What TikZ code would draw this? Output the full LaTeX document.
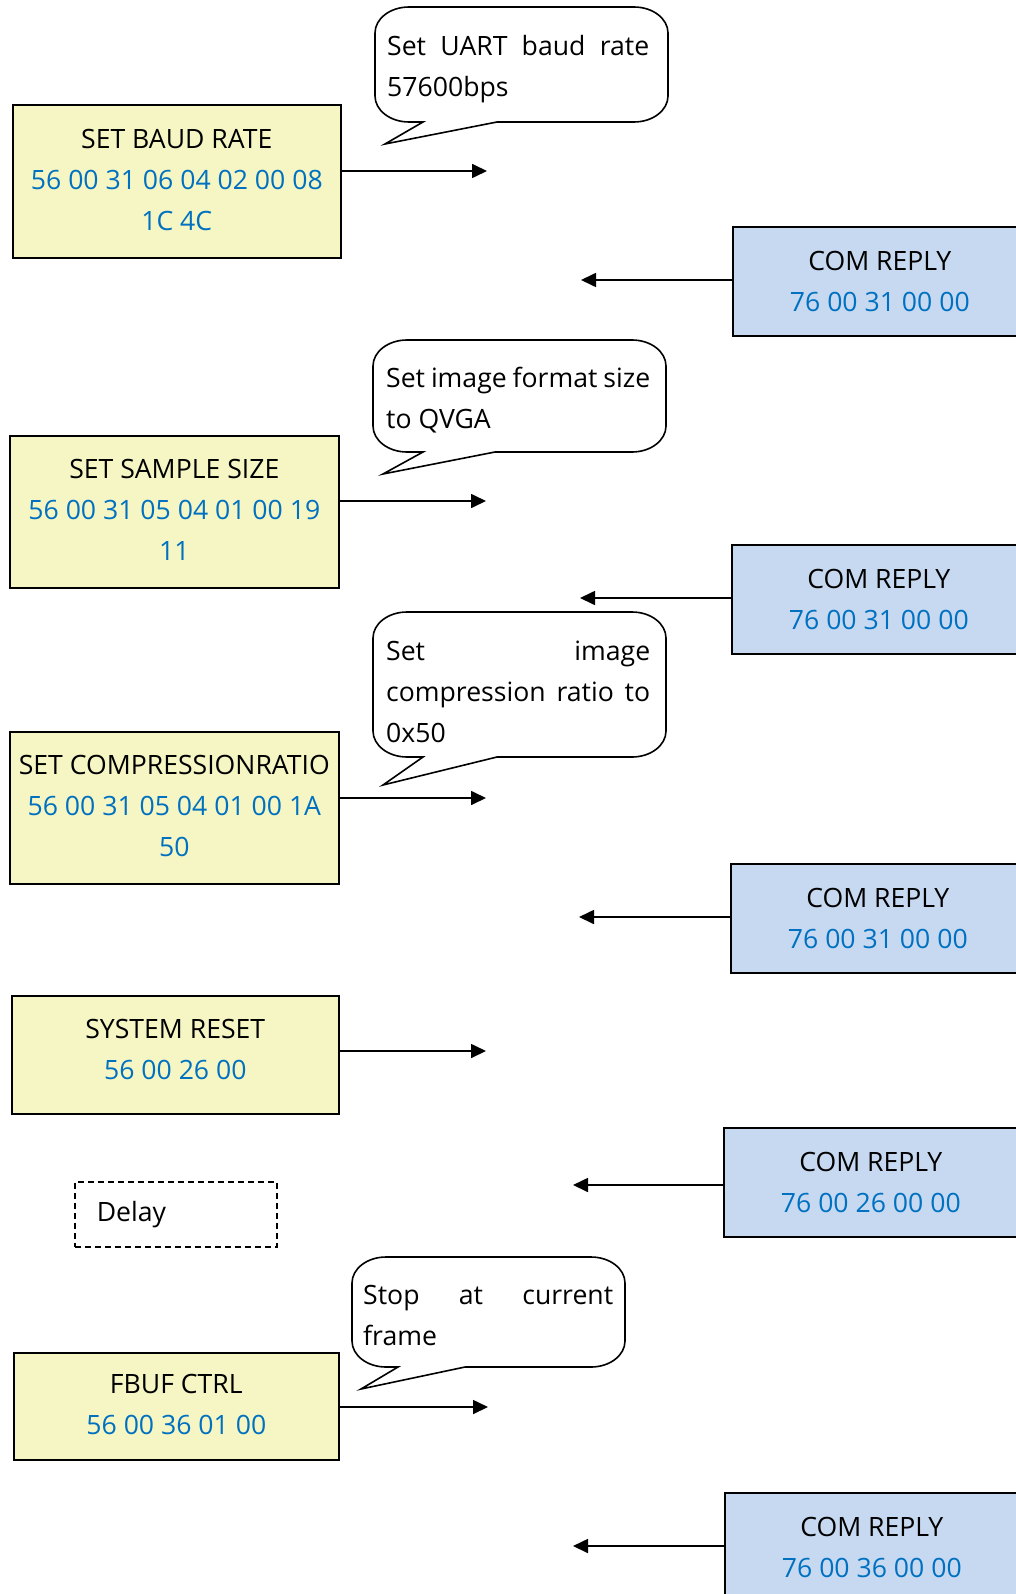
\documentclass[tikz,border=0pt]{standalone}
\usepackage{fontspec}
\setmainfont{Open Sans}
\usetikzlibrary{arrows.meta}
\definecolor{yfill}{HTML}{F5F6C3}
\definecolor{bfill}{HTML}{C6D9F1}
\definecolor{hexblue}{HTML}{0070C0}
\newcommand\diafont{\fontsize{26.6}{41}\selectfont}
\newcommand\hexc[1]{\textcolor{hexblue}{#1}}
\newcommand\bubble[8]{%
  \draw[bubblestyle] (#8,#4) -- ({#3-34},#4)
    arc[start angle=270,end angle=360,x radius=34pt,y radius=26pt]
    -- (#3,{#2+26}) arc[start angle=0,end angle=90,x radius=34pt,y radius=26pt]
    -- ({#1+34},#2) arc[start angle=90,end angle=180,x radius=34pt,y radius=26pt]
    -- (#1,{#4-26}) arc[start angle=180,end angle=270,x radius=34pt,y radius=26pt]
    -- (#5,#4) -- (#6,#7) -- cycle;}
\tikzset{
  cmdbox/.style={draw=black, line width=1.6pt, fill=yfill, align=center,
    inner sep=0pt, font=\diafont, anchor=north west},
  replybox/.style={draw=black, line width=1.6pt, fill=bfill, align=center,
    inner sep=0pt, font=\diafont, anchor=north west,
    minimum width=294pt, minimum height=109pt},
  delaybox/.style={draw=black, line width=1.6pt, dash pattern=on 6pt off 4pt,
    anchor=north west, font=\diafont, align=left, inner xsep=22pt, inner ysep=0pt,
    text width=158pt, minimum height=65pt},
  bubblestyle/.style={draw=black, line width=1.6pt, fill=white, line join=miter},
  bubbletext/.style={anchor=base west, inner sep=0pt, font=\diafont},
  arr/.style={line width=1.7pt, -{Triangle[length=15pt,width=14pt]}}
}
\begin{document}
\begin{tikzpicture}[x=1pt,y=-1pt]
\path[use as bounding box] (0,0) rectangle (1016,1594);
\clip (0,0) rectangle (1016,1594);

% command boxes
\node[cmdbox, minimum width=328pt, minimum height=153pt, text depth=3pt] (y1) at (12,104)
  {SET BAUD RATE\\\hexc{56 00 31 06 04 02 00 08}\\\hexc{1C 4C}};
\node[cmdbox, minimum width=329pt, minimum height=152pt, text depth=3pt] (y2) at (9,435)
  {SET SAMPLE SIZE\\\hexc{56 00 31 05 04 01 00 19}\\\hexc{11}};
\node[cmdbox, minimum width=329pt, minimum height=152pt, text depth=3pt] (y3) at (9,731)
  {SET COMPRESSIONRATIO\\\hexc{56 00 31 05 04 01 00 1A}\\\hexc{50}};
\node[cmdbox, minimum width=327pt, minimum height=118pt, text depth=11pt] (y4) at (11,995)
  {SYSTEM RESET\\\hexc{56 00 26 00}};
\node[cmdbox, minimum width=325pt, minimum height=107pt, text depth=3pt] (y5) at (13,1352)
  {FBUF CTRL\\\hexc{56 00 36 01 00}};

% reply boxes
\node[replybox] (c1) at (732,226) {COM REPLY\\\hexc{76 00 31 00 00}};
\node[replybox] (c2) at (731,544) {COM REPLY\\\hexc{76 00 31 00 00}};
\node[replybox] (c3) at (730,863) {COM REPLY\\\hexc{76 00 31 00 00}};
\node[replybox] (c4) at (723,1127) {COM REPLY\\\hexc{76 00 26 00 00}};
\node[replybox] (c5) at (724,1492) {COM REPLY\\\hexc{76 00 36 00 00}};

% delay
\node[delaybox] (dl) at (74,1181) {Delay};

% arrow ends
\coordinate (s1) at (487,171);
\coordinate (s2) at (486,501);
\coordinate (s3) at (486,798);
\coordinate (s4) at (486,1051);
\coordinate (s5) at (488,1407);
\coordinate (r1) at (581,280);
\coordinate (r2) at (580,598);
\coordinate (r3) at (579,917);
\coordinate (r4) at (573,1185);
\coordinate (r5) at (573,1546);

\draw[arr] (y1.east |- s1) -- (s1);
\draw[arr] (y2.east |- s2) -- (s2);
\draw[arr] (y3.east |- s3) -- (s3);
\draw[arr] (y4.east |- s4) -- (s4);
\draw[arr] (y5.east |- s5) -- (s5);
\draw[arr] (c1.west |- r1) -- (r1);
\draw[arr] (c2.west |- r2) -- (r2);
\draw[arr] (c3.west |- r3) -- (r3);
\draw[arr] (c4.west |- r4) -- (r4);
\draw[arr] (c5.west |- r5) -- (r5);

% callouts
\bubble{375}{7}{668}{122}{423}{385}{144}{497}
\node[bubbletext] (t1) at (387,56)
  {\parbox[t]{262pt}{\diafont Set\hfill UART\hfill baud\hfill rate\\57600bps}};
\bubble{373}{340}{666}{452}{423}{383}{474}{495}
\node[bubbletext] (t2) at (386,387)
  {\parbox[t]{264pt}{\diafont Set image format size\\to QVGA}};
\bubble{373}{612}{666}{757}{423}{383}{785}{497}
\node[bubbletext] (t3) at (386,660)
  {\parbox[t]{264pt}{\diafont Set\hfill image\\compression\hfill ratio\hfill to\\0x50}};
\bubble{352}{1257}{625}{1367}{398}{361}{1389}{465}
\node[bubbletext] (t4) at (363,1304)
  {\parbox[t]{250pt}{\diafont Stop\hfill at\hfill current\\frame}};
\end{tikzpicture}
\end{document}
